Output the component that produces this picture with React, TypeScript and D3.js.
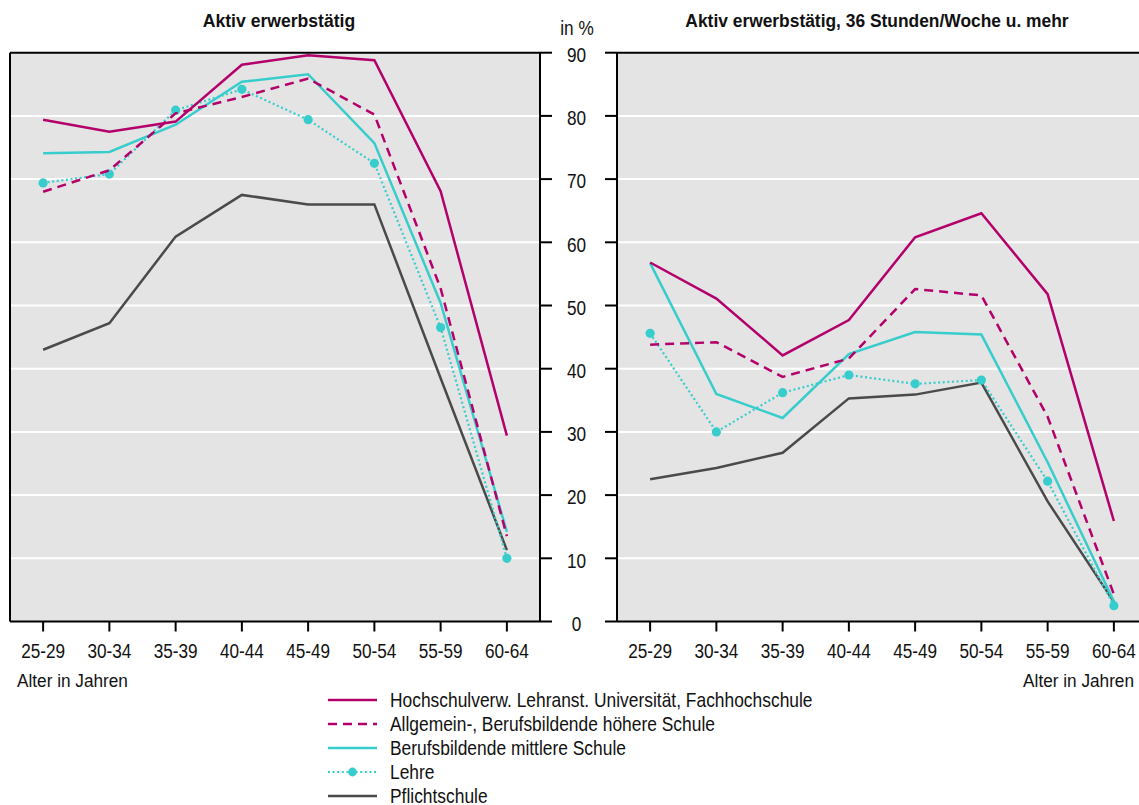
import React from "react";
import * as d3 from "d3";

const ageGroups = ["25-29", "30-34", "35-39", "40-44", "45-49", "50-54", "55-59", "60-64"];
const yTicks = [0, 10, 20, 30, 40, 50, 60, 70, 80, 90];

// Left panel: Aktiv erwerbstätig
const leftHochschule = [79.4, 77.5, 79.1, 88.1, 89.6, 88.8, 68.1, 29.4];
const leftAllgemein = [68.0, 71.4, 80.4, 83.0, 85.9, 80.2, 52.7, 13.5];
const leftMittlere = [74.1, 74.3, 78.6, 85.4, 86.6, 75.7, 50.4, 14.2];
const leftLehre = [69.4, 70.8, 80.9, 84.2, 79.4, 72.5, 46.5, 10.0];
const leftPflicht = [43.0, 47.2, 60.9, 67.5, 66.0, 66.0, 38.5, 11.3];

// Right panel: Aktiv erwerbstätig, 36 Stunden/Woche u. mehr
const rightHochschule = [56.8, 51.1, 42.1, 47.7, 60.8, 64.6, 51.8, 15.9];
const rightAllgemein = [43.8, 44.2, 38.7, 41.6, 52.6, 51.6, 32.4, 4.3];
const rightMittlere = [56.7, 36.0, 32.2, 42.3, 45.8, 45.4, 25.2, 3.2];
const rightLehre = [45.6, 30.0, 36.2, 39.0, 37.6, 38.2, 22.2, 2.5];
const rightPflicht = [22.5, 24.3, 26.7, 35.3, 35.9, 37.8, 19.0, 3.1];

const seriesNames = [
  "Hochschulverw. Lehranst. Universität, Fachhochschule",
  "Allgemein-, Berufsbildende höhere Schule",
  "Berufsbildende mittlere Schule",
  "Lehre",
  "Pflichtschule",
];

const MAGENTA = "#b3006b";
const CYAN = "#38cdcd";
const GRAY = "#4a4a4a";
const BG = "#e4e4e4";

type Style = { color: string; dash?: string; width: number; dots?: boolean };
const styles: Style[] = [
  { color: MAGENTA, width: 2.5 },
  { color: MAGENTA, width: 2.5, dash: "9,6" },
  { color: CYAN, width: 2.5 },
  { color: CYAN, width: 2.2, dash: "2,2.6", dots: true },
  { color: GRAY, width: 2.5 },
];

const leftData = [leftHochschule, leftAllgemein, leftMittlere, leftLehre, leftPflicht];
const rightData = [rightHochschule, rightAllgemein, rightMittlere, rightLehre, rightPflicht];

const FONT = "'Liberation Sans', Arial, sans-serif";
const FS = 17.2;
const SY = 1.15;

function T({ x, y, anchor = "middle", children, size = FS, sy = SY, bold = false }: any) {
  return (
    <g transform={`translate(${x},${y}) scale(1,${sy})`}>
      <text
        x={0}
        y={0}
        textAnchor={anchor}
        fontFamily={FONT}
        fontSize={size}
        fontWeight={bold ? "bold" : "normal"}
        fill="#111"
      >
        {children}
      </text>
    </g>
  );
}

const y = d3.scaleLinear().domain([0, 90]).range([621.5, 52.7]);

function Panel({ x0, x1, data, axisSide }: { x0: number; x1: number; data: number[][]; axisSide: "right" | "left" }) {
  const x = d3.scalePoint<string>().domain(ageGroups).range([x0, x1]).padding(0.5);
  const line = d3
    .line<number>()
    .x((_, i) => x(ageGroups[i]) as number)
    .y((v) => y(v));
  const order = [4, 3, 2, 1, 0];
  const yTop = y(90);
  const yBot = y(0);
  return (
    <g>
      <rect x={x0} y={yTop} width={x1 - x0} height={yBot - yTop} fill={BG} />
      {yTicks
        .filter((t) => t > 0 && t < 90)
        .map((t) => (
          <line key={t} x1={x0} x2={x1} y1={y(t)} y2={y(t)} stroke="#fff" strokeWidth={2} />
        ))}
      {order.map((si) => {
        const s = styles[si];
        return (
          <g key={si}>
            <path
              d={line(data[si]) || ""}
              fill="none"
              stroke={s.color}
              strokeWidth={s.width}
              strokeDasharray={s.dash}
              strokeLinejoin="miter"
            />
            {s.dots &&
              data[si].map((v, i) => (
                <circle key={i} cx={x(ageGroups[i])} cy={y(v)} r={4.6} fill={s.color} />
              ))}
          </g>
        );
      })}
      {/* frame */}
      <line x1={x0} x2={x1} y1={yTop} y2={yTop} stroke="#000" strokeWidth={2} />
      <line x1={x0} x2={x1} y1={yBot} y2={yBot} stroke="#000" strokeWidth={2} />
      <line x1={x0} x2={x0} y1={yTop} y2={yBot} stroke="#000" strokeWidth={2} />
      <line x1={x1} x2={x1} y1={yTop} y2={yBot} stroke="#000" strokeWidth={2} />
      {/* y ticks */}
      {yTicks.map((t) =>
        axisSide === "right" ? (
          <line key={t} x1={x1} x2={x1 + 12} y1={y(t)} y2={y(t)} stroke="#000" strokeWidth={2} />
        ) : (
          <line key={t} x1={x0 - 12} x2={x0} y1={y(t)} y2={y(t)} stroke="#000" strokeWidth={2} />
        )
      )}
      {/* x ticks */}
      {ageGroups.map((g) => (
        <g key={g}>
          <line x1={x(g)} x2={x(g)} y1={yBot} y2={yBot + 10} stroke="#000" strokeWidth={2} />
          <T x={x(g) as number} y={658.3}>
            {g}
          </T>
        </g>
      ))}
    </g>
  );
}

export default function App() {
  const legendX0 = 328;
  const legendX1 = 377;
  const legendY = [700, 724, 748, 772, 796];
  return (
    <svg width={1139} height={805} style={{ position: "absolute", left: 0, top: 0, background: "#fff" }}>
      <Panel x0={10} x1={540} data={leftData} axisSide="right" />
      <Panel x0={617} x1={1147} data={rightData} axisSide="left" />
      {yTicks.map((t) => (
        <T key={t} x={576.5} y={y(t) + 9.3}>
          {t}
        </T>
      ))}
      <T x={577} y={35}>in %</T>
      <T x={279} y={27} bold size={17.6} sy={1.02}>
        Aktiv erwerbstätig
      </T>
      <T x={877} y={27} bold size={17.4} sy={1.02}>
        Aktiv erwerbstätig, 36 Stunden/Woche u. mehr
      </T>
      <T x={17} y={686.7} anchor="start" sy={1.1}>
        Alter in Jahren
      </T>
      <T x={1134} y={686.7} anchor="end" sy={1.1}>
        Alter in Jahren
      </T>
      {seriesNames.map((name, i) => {
        const s = styles[i];
        return (
          <g key={name}>
            <line
              x1={legendX0}
              x2={legendX1}
              y1={legendY[i]}
              y2={legendY[i]}
              stroke={s.color}
              strokeWidth={s.width}
              strokeDasharray={s.dash}
            />
            {s.dots && <circle cx={(legendX0 + legendX1) / 2} cy={legendY[i]} r={4.4} fill={s.color} />}
            <T x={390} y={legendY[i] + 7} anchor="start" size={17.4} sy={1.12}>
              {name}
            </T>
          </g>
        );
      })}
    </svg>
  );
}
